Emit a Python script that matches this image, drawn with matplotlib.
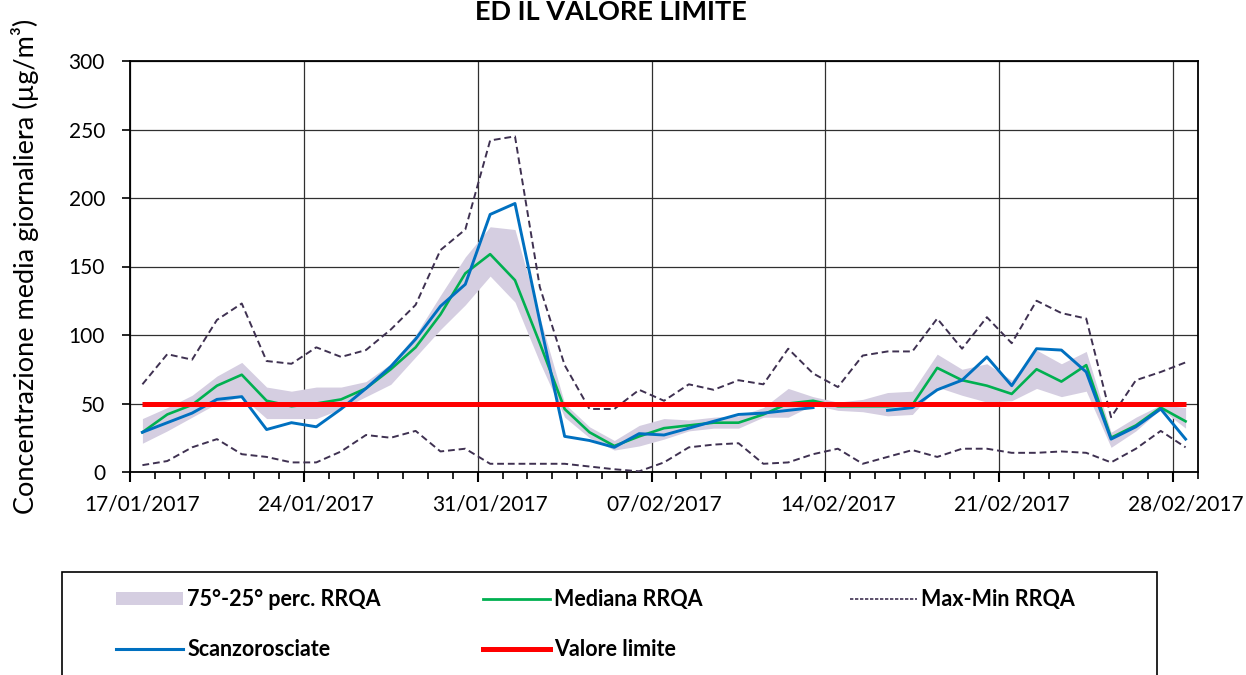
import numpy as np
import pandas as pd
import matplotlib
matplotlib.use('Agg')
import matplotlib.pyplot as plt
from matplotlib.patches import Patch, Rectangle
from matplotlib.lines import Line2D

plt.rcParams['font.family'] = ['Lato', 'DejaVu Sans']

# data, one value per day 17/01/2017 .. 28/02/2017
dates = pd.date_range('2017-01-17', '2017-02-28', freq='D')

p75 = [39, 47, 56, 70, 80, 62, 59, 62, 62, 66, 79, 100, 129, 157, 179, 177, 113, 50, 33, 23, 34,
       39, 38, 40, 41, 47, 61, 55, 51, 53, 58, 59, 86, 75, 79, 67, 89, 79, 88, 29, 40, 49, 47]
p25 = [21, 30, 40, 50, 55, 39, 39, 39, 46, 55, 64, 84, 104, 122, 143, 124, 80, 40, 25, 16, 19,
       24, 30, 32, 32, 40, 40, 49, 45, 44, 41, 42, 62, 56, 51, 52, 61, 55, 59, 18, 30, 46, 32]
mediana = [29, 42, 49, 63, 71, 52, 48, 50, 53, 61, 75, 91, 115, 145, 159, 140, 94, 46, 29, 19, 26,
           32, 34, 36, 36, 42, 50, 52, 48, 48, 48, 49, 76, 67, 63, 57, 75, 66, 78, 25, 34, 47, 37]
massimo = [64, 86, 82, 111, 123, 81, 79, 91, 84, 89, 104, 122, 162, 177, 242, 245, 135, 78, 46, 46, 60,
           52, 64, 60, 67, 64, 90, 72, 62, 85, 88, 88, 112, 90, 113, 94, 125, 116, 112, 40, 67, 73, 80]
minimo = [5, 8, 18, 24, 13, 11, 7, 7, 15, 27, 25, 30, 15, 17, 6, 6, 6, 6, 4, 2, 0.5,
          7, 18, 20, 21, 6, 7, 13, 17, 6, 11, 16, 11, 17, 17, 14, 14, 15, 14, 7, 17, 30, 18]
scanzorosciate = [29, 36, 43, 53, 55, 31, 36, 33, 46, 61, 77, 97, 121, 137, 188, 196, 110, 26, 23, 18, 28,
                  27, 32, 37, 42, 43, 45, 47, np.nan, np.nan, 45, 47, 60, 67, 84, 63, 90, 89, 73, 24, 33, 46, 24]
valore_limite = 50

x = np.arange(len(dates))

c_band = '#d5cee1'
c_med = '#00b050'
c_blue = '#0070c0'
c_dash = '#3f3151'
c_red = '#ff0000'

fig = plt.figure(figsize=(12.46, 6.75), dpi=100)
ax = fig.add_axes([130 / 1246, 203 / 675, 1068 / 1246, 411 / 675])

ax.fill_between(x, p25, p75, color=c_band, linewidth=0, zorder=2)
ax.plot(x, massimo, color=c_dash, lw=1.4, dashes=(3.5, 2), zorder=3)
ax.plot(x, minimo, color=c_dash, lw=1.4, dashes=(3.5, 2), zorder=3)
ax.plot(x, mediana, color=c_med, lw=1.9, zorder=4)
ax.plot(x, scanzorosciate, color=c_blue, lw=2.1, zorder=5)
ax.plot(x, np.full(len(x), valore_limite), color=c_red, lw=3.6, zorder=6, solid_capstyle='butt')

# axes
ax.set_xlim(-0.5, len(x) - 0.5)
ax.set_ylim(0, 300)
ax.set_yticks(np.arange(0, 301, 50))
ax.tick_params(axis='y', direction='out', length=6, width=1.2, pad=12, labelsize=15)
ax.set_xticks(np.arange(-0.5, len(x), 7))
ax.set_xticks(np.arange(-0.5, len(x), 1), minor=True)
ax.tick_params(axis='x', which='major', direction='out', length=7, width=1.5, labelbottom=False)
ax.tick_params(axis='x', which='minor', direction='out', length=5, width=1.2)
ax.grid(True, which='major', color='#303030', lw=0.9, zorder=1)
ax.set_axisbelow(True)
for s in ax.spines.values():
    s.set_linewidth(1.3)
    s.set_color('black')

sec = ax.secondary_xaxis('bottom')
sec.set_xticks(x[::7])
sec.set_xticklabels([d.strftime('%d/%m/%Y') for d in dates[::7]])
sec.tick_params(length=0, pad=16, labelsize=15)
sec.spines['bottom'].set_visible(False)

ax.set_ylabel('Concentrazione media giornaliera (µg/m³)', fontsize=19.5)
ax.yaxis.set_label_coords(-0.098, 0.5)
ax.yaxis.label.set_va('center')

fig.text(611 / 1246, 1.0, 'ED IL VALORE LIMITE', ha='center', va='top',
         fontsize=19.5, fontweight='bold')

# legend frame and entries (three columns)
fig.add_artist(Rectangle((62 / 1246, -0.05), (1157 - 62) / 1246, 0.05 + 1 - 572 / 675,
                         transform=fig.transFigure, facecolor='white', edgecolor='black', lw=1.2))
h_band = Patch(facecolor=c_band, edgecolor='none')
h_med = Line2D([], [], color=c_med, lw=2)
h_dash = Line2D([], [], color=c_dash, lw=1.2, dashes=(2, 1))
h_blue = Line2D([], [], color=c_blue, lw=2.2)
h_red = Line2D([], [], color=c_red, lw=3.6)
cols = [([h_band, h_blue], ['75°-25° perc. RRQA', 'Scanzorosciate'], 116),
        ([h_med, h_red], ['Mediana RRQA', 'Valore limite'], 483),
        ([h_dash], ['Max-Min RRQA'], 850)]
for hs, ls, xpix in cols:
    fig.legend(hs, ls, loc='upper left', bbox_to_anchor=(xpix / 1246, 1 - 589 / 675),
               frameon=False, borderpad=0, borderaxespad=0, handlelength=3.1, handleheight=0.55,
               handletextpad=0.2, labelspacing=1.35, prop={'size': 15.5, 'weight': 'bold'})

fig.savefig('out.png', dpi=100)
